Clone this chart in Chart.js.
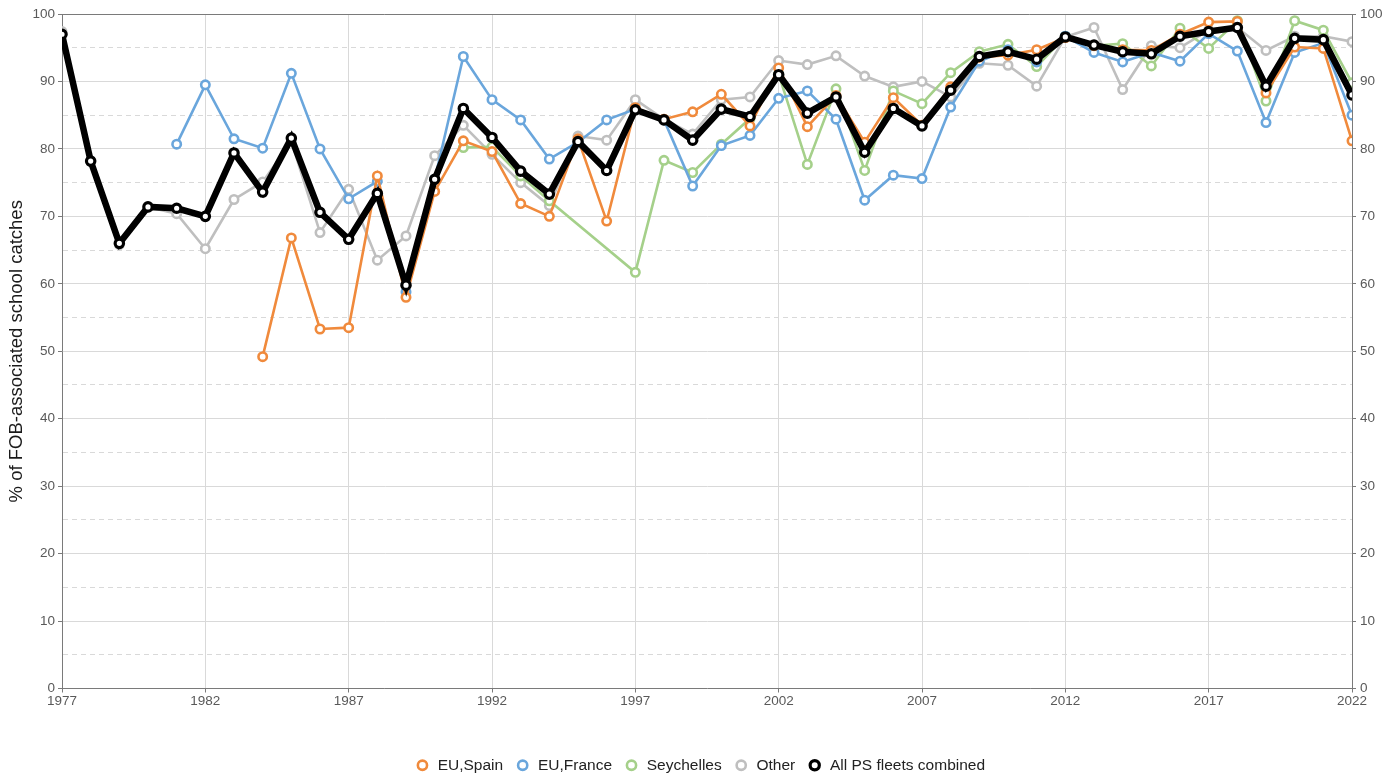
<!DOCTYPE html>
<html>
<head>
<meta charset="utf-8">
<title>FOB-associated school catches</title>
<script src="https://cdn.jsdelivr.net/npm/chart.js@4.4.1/dist/chart.umd.min.js"></script>
<style>
  html, body { margin: 0; padding: 0; background: #fff; }
  #wrap { width: 1400px; height: 778px; }
</style>
</head>
<body>
<div id="wrap"><canvas id="fobChart" width="1400" height="778"></canvas></div>
<script>
// years on the x axis
const years = [];
for (let y = 1977; y <= 2022; y++) years.push(y);

// % of FOB-associated school catches, one value per year (null = no data)
const spain = [
  null, null, null, null, null, null, null, 49.2, 66.8, 53.3,
  53.5, 76.0, 58.0, 73.7, 81.2, 79.6, 71.9, 70.0, 81.5, 69.3,
  86.1, 84.4, 85.5, 88.1, 83.4, 92.0, 83.3, 87.9, 81.0, 87.6,
  83.5, 89.2, 93.6, 93.9, 94.7, 96.5, 95.3, 94.7, 94.6, 97.0,
  98.8, 98.9, 88.3, 95.1, 94.9, 81.2
];
const france = [
  null, null, null, null, 80.7, 89.5, 81.5, 80.1, 91.2, 80.0,
  72.6, 75.2, 58.8, 75.5, 93.7, 87.3, 84.3, 78.5, 81.0, 84.3,
  85.9, 84.3, 74.5, 80.5, 82.0, 87.5, 88.6, 84.4, 72.4, 76.1,
  75.6, 86.2, 93.0, 94.7, 92.9, 96.7, 94.3, 92.9, 94.3, 93.0,
  97.1, 94.5, 83.9, 94.3, 95.7, 85.0
];
const seychelles = [
  null, null, null, null, null, null, null, null, null, null,
  null, null, null, null, 80.2, 80.3, 76.0, 72.3, null, null,
  61.7, 78.3, 76.5, 80.7, 84.5, 91.1, 77.7, 88.9, 76.8, 88.6,
  86.7, 91.3, 94.4, 95.5, 92.2, 96.7, 95.3, 95.6, 92.3, 97.9,
  94.9, 99.0, 87.1, 99.0, 97.6, 89.8
];
const other = [
  97.4, 78.2, 65.8, 71.4, 70.4, 65.2, 72.5, 75.1, 81.1, 67.6,
  74.0, 63.5, 67.1, 79.0, 83.5, 79.2, 75.0, 71.6, 81.9, 81.3,
  87.3, 84.4, 82.2, 87.3, 87.7, 93.1, 92.5, 93.8, 90.8, 89.2,
  90.0, 87.7, 92.7, 92.4, 89.3, 96.6, 98.0, 88.8, 95.3, 95.0,
  97.6, 98.0, 94.6, 96.7, 96.7, 95.9
];
const allFleets = [
  97.0, 78.2, 66.0, 71.4, 71.2, 70.0, 79.4, 73.6, 81.6, 70.6,
  66.6, 73.4, 59.8, 75.5, 86.0, 81.7, 76.7, 73.3, 81.1, 76.8,
  85.8, 84.3, 81.3, 85.9, 84.8, 91.0, 85.3, 87.7, 79.5, 86.0,
  83.4, 88.7, 93.7, 94.4, 93.3, 96.6, 95.4, 94.4, 94.1, 96.7,
  97.4, 98.0, 89.3, 96.4, 96.2, 88.0
];

// estilos
const axisColor = '#7a7a7a';
const gridColor = '#d9d9d9';
const tickText = '#595959';
const fontFamily = '"Liberation Sans", Arial, Helvetica, sans-serif';

// una serie de colores
function series(label, data, color, order) {
  return {
    label: label,
    data: data,
    order: order,
    borderColor: color,
    backgroundColor: color,
    borderWidth: 2.6,
    pointRadius: 4.2,
    pointBorderWidth: 2.6,
    pointBackgroundColor: '#ffffff',
    pointBorderColor: color,
    spanGaps: true,
    tension: 0,
    clip: 0
  };
}

const allSeries = series('All PS fleets combined', allFleets, '#000000', 0);
allSeries.borderWidth = 6.5;
allSeries.pointRadius = 4.2;
allSeries.pointBorderWidth = 3.2;

const isMajorYear = (i) => (years[i] - years[0]) % 5 === 0;

// marco del panel (arriba)
const framePlugin = {
  id: 'frame',
  beforeDatasetsDraw(chart) {
    const { ctx, chartArea } = chart;
    ctx.save();
    ctx.strokeStyle = axisColor;
    ctx.lineWidth = 1;
    ctx.beginPath();
    ctx.moveTo(chartArea.left, chartArea.top + 0.5);
    ctx.lineTo(chartArea.right, chartArea.top + 0.5);
    ctx.stroke();
    ctx.restore();
  }
};

new Chart(document.getElementById('fobChart'), {
  type: 'line',
  data: {
    labels: years,
    datasets: [
      series('EU,Spain', spain, '#f08a3c', 1),
      series('EU,France', france, '#6aa6dc', 2),
      series('Seychelles', seychelles, '#a5d08a', 3),
      series('Other', other, '#bfbfbf', 4),
      allSeries
    ]
  },
  options: {
    responsive: false,
    animation: false,
    layout: { padding: { top: 14, right: 0, bottom: -5, left: 0 } },
    plugins: {
      tooltip: { enabled: false },
      legend: {
        position: 'bottom',
        labels: {
          usePointStyle: true,
          pointStyle: 'circle',
          boxWidth: 15,
          boxHeight: 6.5,
          padding: 12,
          color: '#222222',
          font: { family: fontFamily, size: 15.5 },
          sort: (a, b) => a.datasetIndex - b.datasetIndex
        }
      }
    },
    scales: {
      x: {
        type: 'category',
        offset: false,
        grid: {
          offset: false,
          color: (ctx) => isMajorYear(ctx.index) ? gridColor : 'transparent',
          tickColor: (ctx) => isMajorYear(ctx.index) ? axisColor : 'transparent',
          tickLength: 4
        },
        border: { color: axisColor, width: 1 },
        ticks: {
          autoSkip: false,
          maxRotation: 0,
          padding: 1,
          color: tickText,
          font: { family: fontFamily, size: 13.5 },
          callback: (v, i) => isMajorYear(i) ? years[i] : ''
        },
        afterFit: (scale) => { scale.height = 57; }
      },
      y: {
        position: 'left',
        min: 0,
        max: 100,
        ticks: {
          stepSize: 5,
          autoSkip: false,
          padding: 3,
          color: tickText,
          font: { family: fontFamily, size: 13.5 },
          callback: (v) => v % 10 === 0 ? v : ''
        },
        grid: {
          color: gridColor,
          tickColor: (ctx) => ctx.tick && ctx.tick.value % 10 === 0 ? axisColor : 'transparent',
          tickLength: 4
        },
        border: {
          color: axisColor,
          dash: (ctx) => ctx.tick && ctx.tick.value % 10 !== 0 ? [5, 4] : []
        },
        title: {
          display: true,
          text: '% of FOB-associated school catches',
          color: '#1a1a1a',
          font: { family: fontFamily, size: 18.5 },
          padding: { top: 6, bottom: 0 }
        },
        afterFit: (scale) => { scale.width = 62; }
      },
      y2: {
        position: 'right',
        min: 0,
        max: 100,
        ticks: {
          stepSize: 10,
          padding: 4,
          color: tickText,
          font: { family: fontFamily, size: 13.5 }
        },
        grid: { drawOnChartArea: false, tickColor: axisColor, tickLength: 4 },
        border: { color: axisColor },
        afterFit: (scale) => { scale.width = 48; }
      }
    }
  },
  plugins: [framePlugin]
});
</script>
</body>
</html>
